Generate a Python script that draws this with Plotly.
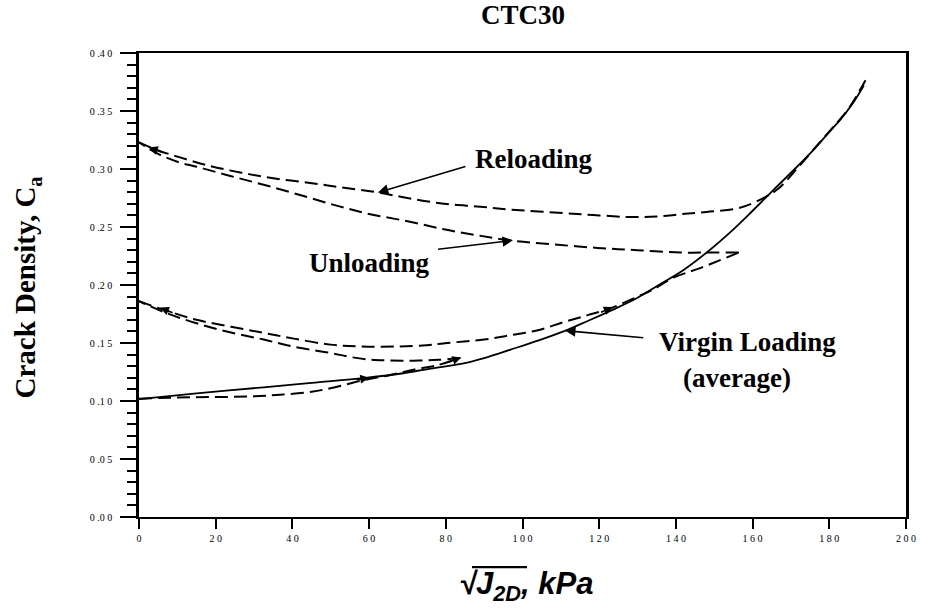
import plotly.graph_objects as go

# ---------------- data ----------------
virgin_x = [0, 15, 32.5, 45, 58.6, 68, 76, 84, 90, 96.9, 104, 110.7, 117, 123.8, 130, 135,
            142, 148.2, 155, 160, 165.6, 171, 176, 180, 183, 186, 189]
virgin_y = [0.1017, 0.1065, 0.1118, 0.1157, 0.1198, 0.1235, 0.128, 0.132, 0.137, 0.1443, 0.152,
            0.160, 0.169, 0.179, 0.189, 0.199, 0.213, 0.2285, 0.248, 0.264, 0.2825, 0.300,
            0.317, 0.332, 0.343, 0.356, 0.372]

load1_x = [0, 10, 19.4, 30, 36.8, 45, 49.9, 58.6, 65, 71.6, 78, 83.5]
load1_y = [0.102, 0.103, 0.1034, 0.104, 0.1054, 0.108, 0.111, 0.118, 0.122, 0.127, 0.131, 0.137]

unload1_x = [83.8, 78, 71.6, 65, 60.3, 55, 49.9, 40, 32.5, 24, 15, 7, 0]
unload1_y = [0.137, 0.1355, 0.1348, 0.135, 0.1356, 0.138, 0.1414, 0.147, 0.153, 0.159, 0.167,
             0.176, 0.186]

reload1_x = [0, 7, 15, 24, 32.5, 40, 49.9, 58, 67.3, 75, 80.3, 90, 96.9, 104, 110.7, 117, 123,
             130, 134, 139.5, 146.5, 156.4]
reload1_y = [0.186, 0.178, 0.170, 0.164, 0.1587, 0.154, 0.1486, 0.147, 0.147, 0.148, 0.150,
             0.153, 0.1567, 0.161, 0.168, 0.174, 0.180, 0.190, 0.196, 0.2065, 0.2148, 0.228]

unload2_x = [156.4, 150, 141.3, 130, 119.5, 108, 97.7, 88, 79.5, 70, 60.3, 52, 42.9, 33, 23.8,
             15, 10.7, 5, 0]
unload2_y = [0.228, 0.228, 0.228, 0.230, 0.232, 0.235, 0.238, 0.243, 0.248, 0.255, 0.261, 0.268,
             0.2767, 0.286, 0.294, 0.302, 0.3055, 0.313, 0.323]

reload2_x = [0, 5, 10.7, 18, 26.4, 35, 44.6, 53, 62, 70, 79.5, 89, 96.9, 110.7, 120, 128.2, 135,
             141.3, 148, 156, 161, 166.5, 172, 177, 181, 185, 188, 190]
reload2_y = [0.323, 0.316, 0.310, 0.303, 0.297, 0.292, 0.288, 0.284, 0.280, 0.275, 0.270, 0.2675,
             0.265, 0.262, 0.260, 0.2586, 0.259, 0.261, 0.263, 0.266, 0.272, 0.2825, 0.302,
             0.321, 0.336, 0.352, 0.368, 0.380]

NB = "\u00a0"
x_tickvals = [0, 20, 40, 60, 80, 100, 120, 140, 160, 180, 200]
x_ticktext = ["0", "2 0", "4 0", "6 0", "8 0", "1 0 0", "1 2 0", "1 4 0", "1 6 0", "1 8 0", "2 0 0"]
y_tickvals = [0, 0.05, 0.10, 0.15, 0.20, 0.25, 0.30, 0.35, 0.40]
y_ticktext = ["0 .0 0", "0 .0 5", "0 .1 0", "0 .1 5", "0 .2 0", "0 .2 5", "0 .3 0", "0 .3 5", "0 .4 0"]

SERIF = "Liberation Serif"
SANS = "Liberation Sans"

fig = go.Figure()

dash_style = dict(color="black", width=2, dash="13px,6px")
for xs, ys in [(load1_x, load1_y), (unload1_x, unload1_y), (reload1_x, reload1_y),
               (unload2_x, unload2_y), (reload2_x, reload2_y)]:
    fig.add_trace(go.Scatter(x=xs, y=ys, mode="lines", line=dict(shape="spline", **dash_style),
                             showlegend=False, hoverinfo="skip"))

fig.add_trace(go.Scatter(x=virgin_x, y=virgin_y, mode="lines",
                         line=dict(color="black", width=1.8, shape="spline"),
                         showlegend=False, hoverinfo="skip"))

lab_font = dict(family=SERIF, size=27, color="black")


def px_x(p):
    return (p - 139) / 767.0


def px_y(p):
    return (517 - p) / 463.0


annotations = [
    # title
    dict(text="<b>CTC30</b>", xref="paper", yref="paper", x=0.5, y=px_y(16),
         xanchor="center", yanchor="middle", showarrow=False, font=lab_font),
    # y-axis title
    dict(text="<b>Crack Density, C<sub>a</sub></b>", xref="paper", yref="paper",
         x=px_x(27), y=px_y(288), xanchor="center", yanchor="middle", textangle=-90,
         showarrow=False, font=dict(family=SERIF, size=29, color="black")),
    # x-axis title
    dict(text="<b><i>√J<sub>2D</sub>, kPa</i></b>",
         xref="paper", yref="paper", x=px_x(457), y=px_y(586), xanchor="left", yanchor="middle",
         showarrow=False, font=dict(family=SANS, size=31, color="black")),
    # labels
    dict(text="<b>Reloading</b>", x=103.1, y=0.3084, showarrow=False, font=lab_font),
    dict(text="<b>Unloading</b>", x=60.0, y=0.2194, showarrow=False, font=lab_font),
    dict(text="<b>Virgin Loading</b>", x=158.7, y=0.1512, showarrow=False, font=lab_font),
    dict(text="<b>(average)</b>", x=155.9, y=0.1201, showarrow=False, font=lab_font),
]

# labelled arrows (tail -> tip)
arrows = [
    ((85.5, 0.3026), (62.3, 0.2797)),
    ((77.6, 0.2307), (97.5, 0.2385)),
    ((131.9, 0.1544), (111.1, 0.1607)),
]
for (tx, ty), (hx, hy) in arrows:
    annotations.append(dict(text="", x=hx, y=hy, ax=tx, ay=ty, axref="x", ayref="y",
                            showarrow=True, arrowhead=2, arrowsize=1.3, arrowwidth=1.6,
                            arrowcolor="black"))

# small direction arrowheads on the curves (pixel offsets)
small = [
    (2.6, 0.3185, 14, 5),
    (5.5, 0.1806, 14, 6),
    (84.0, 0.1375, -14, 5),
    (60.0, 0.1200, -14, 2),
    (123.5, 0.1810, -13, 6),
]
for hx, hy, ax, ay in small:
    annotations.append(dict(text="", x=hx, y=hy, ax=ax, ay=ay, showarrow=True, arrowhead=2,
                            arrowsize=1.1, arrowwidth=1.6, arrowcolor="black"))

# radical bar over J_2D
shapes = [dict(type="line", xref="paper", yref="paper",
               x0=px_x(472), x1=px_x(527), y0=px_y(567), y1=px_y(567),
               line=dict(color="black", width=2.2))]

fig.update_layout(
    width=929, height=609,
    margin=dict(l=139, r=23, t=53, b=92),
    paper_bgcolor="white", plot_bgcolor="white",
    showlegend=False,
    annotations=annotations,
    shapes=shapes,
    font=dict(family=SERIF, color="black"),
)

fig.update_xaxes(range=[0, 200], tickvals=x_tickvals, ticktext=[t.replace(" ", NB) for t in x_ticktext],
                 ticks="outside", ticklen=10, tickwidth=1.5, tickcolor="black",
                 showline=True, linecolor="black", linewidth=2, mirror=True,
                 showgrid=False, zeroline=False, ticklabelstandoff=1,
                 tickfont=dict(family=SERIF, size=10, color="black"))
fig.update_yaxes(range=[0, 0.4], tickvals=y_tickvals, ticktext=[t.replace(" ", NB) for t in y_ticktext],
                 ticks="outside", ticklen=16, tickwidth=1.8, tickcolor="black",
                 minor=dict(dtick=0.01, ticks="outside", ticklen=9, tickwidth=1.5,
                            tickcolor="black", showgrid=False),
                 showline=True, linecolor="black", linewidth=2.5, mirror=True,
                 showgrid=False, zeroline=False, ticklabelstandoff=6,
                 tickfont=dict(family=SERIF, size=10, color="black"))

fig.write_html("out.html")
